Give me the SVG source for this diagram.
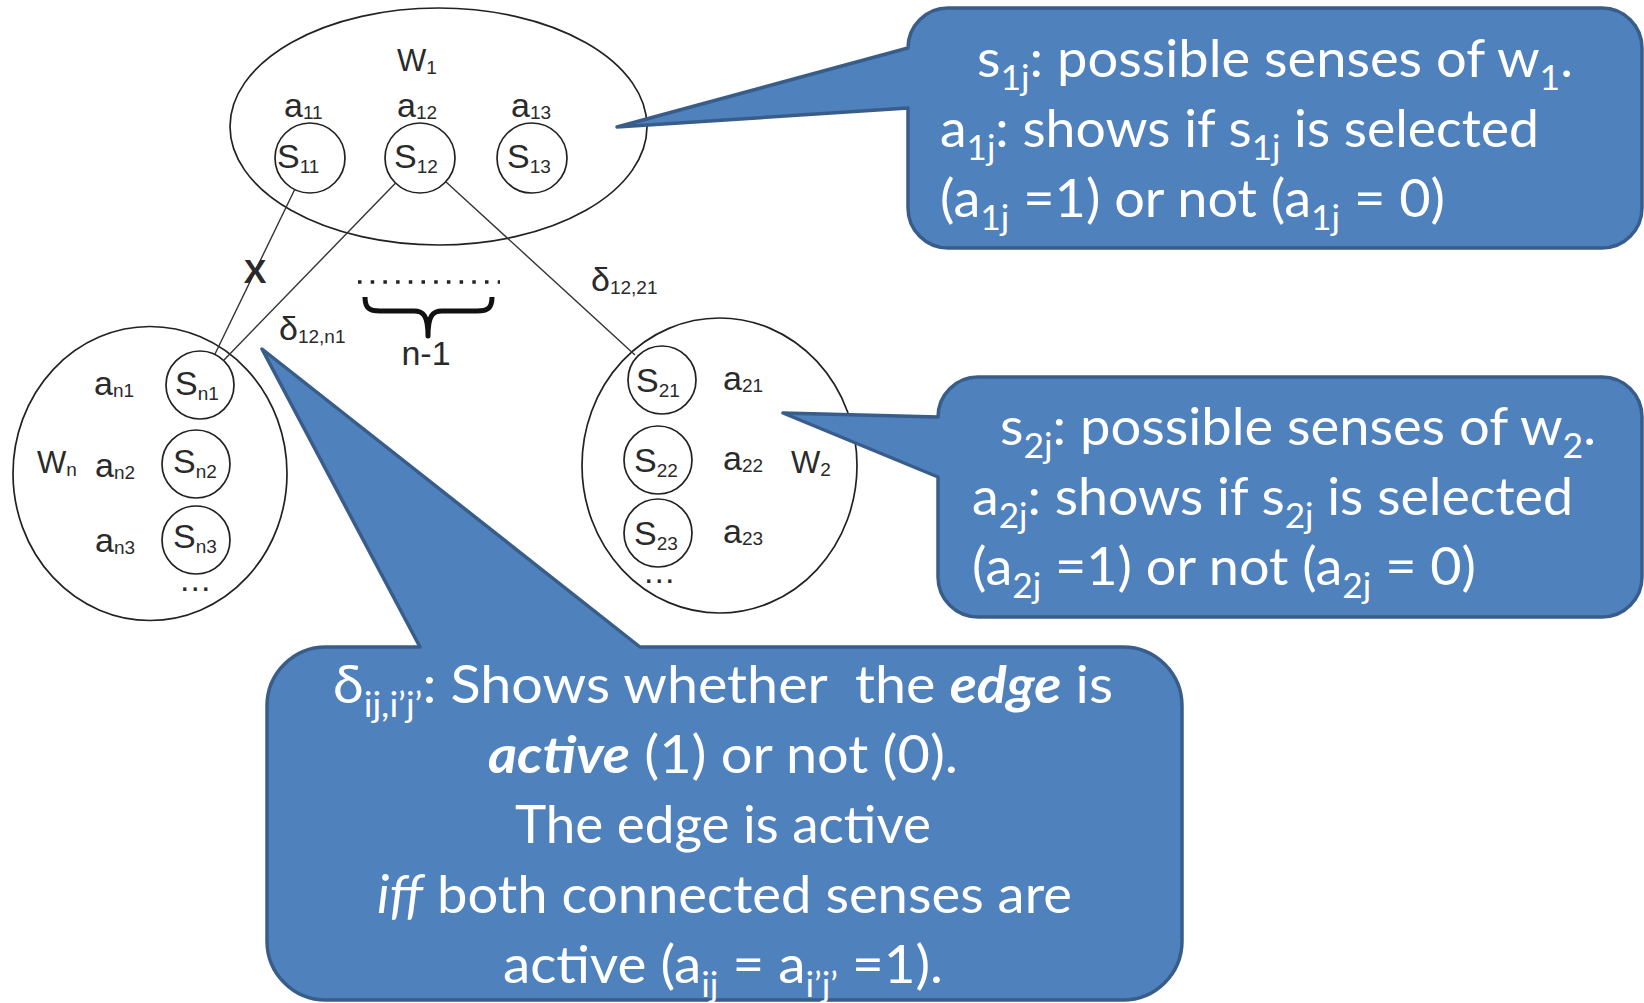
<svg xmlns="http://www.w3.org/2000/svg" width="1644" height="1003" viewBox="0 0 1644 1003">
  <style>
    .bg { fill: #ffffff; }
    .word { fill: none; stroke: #222222; stroke-width: 1.7; }
    .sense { fill: none; stroke: #222222; stroke-width: 1.7; }
    .edge { fill: none; stroke: #333333; stroke-width: 1.4; }
    .lbl { font-family: "Liberation Sans", Arial, sans-serif; fill: #2a2a2a; font-size: 34px; }
    .wl { font-size: 31px; }
    .sub { font-size: 19px; }
    .callout { fill: #4f81bd; stroke: #385d8a; stroke-width: 3.5; stroke-linejoin: round; }
    .ct { font-family: Lato, "Open Sans", sans-serif; font-size: 52px; fill: #ffffff; }
    .cs { font-size: 34px; }
    .bi { font-weight: bold; font-style: italic; }
    .it { font-style: italic; }
  </style>

  <rect class="bg" x="0" y="0" width="1644" height="1003"/>

  <!-- word w1 with its three senses -->
  <g id="word-w1">
    <ellipse class="word" cx="438.5" cy="126.5" rx="208.5" ry="118.5"/>
    <text class="lbl wl" x="397" y="71">W<tspan class="sub" dy="3">1</tspan></text>
    <text class="lbl" x="284" y="117">a<tspan class="sub" dy="2">11</tspan></text>
    <text class="lbl" x="397" y="117">a<tspan class="sub" dy="2">12</tspan></text>
    <text class="lbl" x="511" y="117">a<tspan class="sub" dy="2">13</tspan></text>
  </g>
  <g id="sense-s11">
    <circle class="sense" cx="310" cy="158" r="35"/>
    <text class="lbl" x="277" y="168">S<tspan class="sub" dy="5">11</tspan></text>
  </g>
  <g id="sense-s12">
    <circle class="sense" cx="420" cy="158" r="35"/>
    <text class="lbl" x="394" y="168">S<tspan class="sub" dy="5">12</tspan></text>
  </g>
  <g id="sense-s13">
    <circle class="sense" cx="532" cy="158" r="35"/>
    <text class="lbl" x="507" y="168">S<tspan class="sub" dy="5">13</tspan></text>
  </g>

  <!-- word wn with its senses -->
  <g id="word-wn">
    <ellipse class="word" cx="150" cy="473.5" rx="137" ry="147"/>
    <text class="lbl wl" x="37" y="473">W<tspan class="sub" dy="3">n</tspan></text>
    <text class="lbl" x="94" y="395">a<tspan class="sub" dy="2">n1</tspan></text>
    <text class="lbl" x="95" y="477">a<tspan class="sub" dy="2">n2</tspan></text>
    <text class="lbl" x="95" y="552">a<tspan class="sub" dy="2">n3</tspan></text>
    <text class="lbl" x="180" y="591" font-size="26" letter-spacing="1">...</text>
  </g>
  <g id="sense-sn1">
    <circle class="sense" cx="200" cy="385" r="34"/>
    <text class="lbl" x="175" y="395">S<tspan class="sub" dy="5">n1</tspan></text>
  </g>
  <g id="sense-sn2">
    <circle class="sense" cx="196" cy="464" r="34"/>
    <text class="lbl" x="173" y="473">S<tspan class="sub" dy="5">n2</tspan></text>
  </g>
  <g id="sense-sn3">
    <circle class="sense" cx="196" cy="540" r="34"/>
    <text class="lbl" x="173" y="548">S<tspan class="sub" dy="5">n3</tspan></text>
  </g>

  <!-- word w2 with its senses -->
  <g id="word-w2">
    <ellipse class="word" cx="719.5" cy="465.5" rx="137.5" ry="147.5"/>
    <text class="lbl wl" x="791" y="473">W<tspan class="sub" dy="3">2</tspan></text>
    <text class="lbl" x="723" y="390">a<tspan class="sub" dy="2">21</tspan></text>
    <text class="lbl" x="723" y="470">a<tspan class="sub" dy="2">22</tspan></text>
    <text class="lbl" x="723" y="543">a<tspan class="sub" dy="2">23</tspan></text>
    <text class="lbl" x="644" y="583" font-size="26" letter-spacing="1">...</text>
  </g>
  <g id="sense-s21">
    <circle class="sense" cx="662" cy="380" r="34"/>
    <text class="lbl" x="636" y="392">S<tspan class="sub" dy="5">21</tspan></text>
  </g>
  <g id="sense-s22">
    <circle class="sense" cx="658" cy="460" r="34"/>
    <text class="lbl" x="634" y="472">S<tspan class="sub" dy="5">22</tspan></text>
  </g>
  <g id="sense-s23">
    <circle class="sense" cx="658" cy="533" r="34"/>
    <text class="lbl" x="634" y="545">S<tspan class="sub" dy="5">23</tspan></text>
  </g>

  <!-- edges between senses, with their labels -->
  <g id="connectors">
    <line class="edge" x1="294.7" y1="189.5" x2="215" y2="354"/>
    <line class="edge" x1="395.6" y1="183" x2="224" y2="360"/>
    <line class="edge" x1="445.8" y1="181.7" x2="635" y2="355"/>
    <text class="lbl" x="255" y="283" font-size="36" font-weight="bold" text-anchor="middle" fill="#111">X</text>
    <text class="lbl" x="279" y="340" font-size="30">δ<tspan class="sub" dy="3">12,n1</tspan></text>
    <text class="lbl" x="591" y="291" font-size="30">δ<tspan class="sub" dy="3">12,21</tspan></text>
    <line x1="358" y1="282" x2="500" y2="282" stroke="#222" stroke-width="3.5" stroke-dasharray="3.5 9.2"/>
    <path d="M365,297 C365,308 369,311 380,311 L414,311 C423,311 428,315 428,336 C428,315 433,311 442,311 L477,311 C488,311 492,308 492,297" fill="none" stroke="#111" stroke-width="5" stroke-linejoin="round"/>
    <text class="lbl" x="426" y="365" font-size="30" text-anchor="middle">n-1</text>
  </g>

  <!-- callout explaining senses of w1 -->
  <g id="callout-w1">
    <path class="callout" d="M948,8 H1602 A40,40 0 0 1 1642,48 V208 A40,40 0 0 1 1602,248 H948 A40,40 0 0 1 908,208 V108 L617,127 L908,48 A40,40 0 0 1 948,8 Z"/>
    <text class="ct" x="977" y="77" textLength="596" lengthAdjust="spacingAndGlyphs">s<tspan class="cs" dy="13">1j</tspan><tspan dy="-13">: possible senses of w</tspan><tspan class="cs" dy="13">1</tspan><tspan dy="-13">.</tspan></text>
    <text class="ct" x="940" y="147" textLength="599" lengthAdjust="spacingAndGlyphs">a<tspan class="cs" dy="13">1j</tspan><tspan dy="-13">: shows if s</tspan><tspan class="cs" dy="13">1j</tspan><tspan dy="-13"> is selected</tspan></text>
    <text class="ct" x="940" y="217" textLength="505" lengthAdjust="spacingAndGlyphs">(a<tspan class="cs" dy="13">1j</tspan><tspan dy="-13"> =1) or not (a</tspan><tspan class="cs" dy="13">1j</tspan><tspan dy="-13"> = 0)</tspan></text>
  </g>

  <!-- callout explaining senses of w2 -->
  <g id="callout-w2">
    <path class="callout" d="M978,377 H1602 A40,40 0 0 1 1642,417 V577 A40,40 0 0 1 1602,617 H978 A40,40 0 0 1 938,577 V477 L783,413 L938,417 A40,40 0 0 1 978,377 Z"/>
    <text class="ct" x="1000" y="445" textLength="596" lengthAdjust="spacingAndGlyphs">s<tspan class="cs" dy="13">2j</tspan><tspan dy="-13">: possible senses of w</tspan><tspan class="cs" dy="13">2</tspan><tspan dy="-13">.</tspan></text>
    <text class="ct" x="972" y="515" textLength="601" lengthAdjust="spacingAndGlyphs">a<tspan class="cs" dy="13">2j</tspan><tspan dy="-13">: shows if s</tspan><tspan class="cs" dy="13">2j</tspan><tspan dy="-13"> is selected</tspan></text>
    <text class="ct" x="972" y="585" textLength="504" lengthAdjust="spacingAndGlyphs">(a<tspan class="cs" dy="13">2j</tspan><tspan dy="-13"> =1) or not (a</tspan><tspan class="cs" dy="13">2j</tspan><tspan dy="-13"> = 0)</tspan></text>
  </g>

  <!-- callout explaining edge variables -->
  <g id="callout-edge">
    <path class="callout" d="M326,647 H420 L262,349 L640,647 H1123 A59,59 0 0 1 1182,706 V941 A59,59 0 0 1 1123,1000 H326 A59,59 0 0 1 267,941 V706 A59,59 0 0 1 326,647 Z"/>
    <text class="ct" x="333" y="703" textLength="780" lengthAdjust="spacingAndGlyphs">δ<tspan class="cs" dy="14">ij,i’j’</tspan><tspan dy="-14">: Shows whether&#160; the </tspan><tspan class="bi">edge</tspan> is</text>
    <text class="ct" x="488" y="773" textLength="470" lengthAdjust="spacingAndGlyphs"><tspan class="bi">active</tspan> (1) or not (0).</text>
    <text class="ct" x="515" y="843" textLength="416" lengthAdjust="spacingAndGlyphs">The edge is active</text>
    <text class="ct" x="377" y="913" textLength="695" lengthAdjust="spacingAndGlyphs"><tspan class="it">iff</tspan> both connected senses are</text>
    <text class="ct" x="503" y="983" textLength="440" lengthAdjust="spacingAndGlyphs">active (a<tspan class="cs" dy="14">ij</tspan><tspan dy="-14"> = a</tspan><tspan class="cs" dy="14">i’j’</tspan><tspan dy="-14"> =1).</tspan></text>
  </g>
</svg>
